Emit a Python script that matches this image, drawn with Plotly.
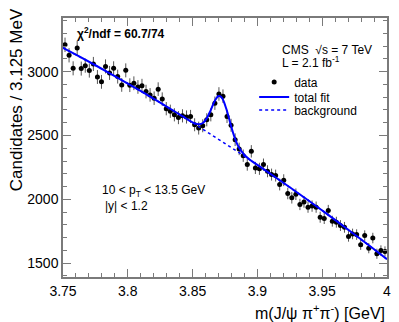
import numpy as np
import plotly.graph_objects as go

# binning of the J/psi pi+ pi- mass spectrum
mass_lo = 3.75
bin_width = 0.003125

# candidates per 3.125 MeV bin
counts = [3210, 3128, 3026, 3185, 3024, 3047, 3008, 3060, 2958, 2920,
          3041, 2990, 3026, 2961, 2896, 3010, 2894, 2909, 2880, 2890,
          2844, 2818, 2792, 2863, 2785, 2710, 2690, 2662, 2640, 2654,
          2645, 2649, 2584, 2558, 2576, 2623, 2662, 2753, 2825, 2808,
          2649, 2580, 2467, 2395, 2342, 2272, 2376, 2246, 2239, 2272,
          2220, 2194, 2186, 2116, 2150, 2046, 2012, 2040, 1960, 1979,
          1939, 1947, 1939, 1860, 1850, 1913, 1829, 1821, 1795, 1781,
          1710, 1729, 1724, 1645, 1716, 1618, 1697, 1574, 1600, 1592]

# total fit curve
fit_mass = [3.75, 3.7625, 3.775, 3.7875, 3.8, 3.8125, 3.825, 3.8375,
            3.845, 3.85, 3.855, 3.858, 3.861, 3.864, 3.867, 3.87, 3.8715,
            3.873, 3.876, 3.879, 3.882, 3.885, 3.89, 3.895, 3.9, 3.9125,
            3.925, 3.9375, 3.95, 3.9625, 3.975, 3.9875, 4.0]
fit_vals = [3187, 3119, 3050, 2979, 2907, 2833, 2757, 2680,
            2633, 2603, 2588, 2598, 2636, 2699, 2769, 2809, 2807,
            2789, 2709, 2600, 2497, 2420, 2347, 2304, 2270, 2183,
            2095, 2005, 1913, 1820, 1725, 1629, 1531]

# background component
bg_mass = [3.75, 3.7625, 3.775, 3.7875, 3.8, 3.8125, 3.825, 3.8375, 3.85,
           3.8625, 3.875, 3.8875, 3.9, 3.9125, 3.925, 3.9375, 3.95,
           3.9625, 3.975, 3.9875, 4.0]
bg_vals = [3187, 3119, 3050, 2979, 2907, 2833, 2757, 2680, 2601,
           2521, 2439, 2355, 2270, 2183, 2095, 2005, 1913,
           1820, 1725, 1629, 1531]

x_ticks = [3.75, 3.8, 3.85, 3.9, 3.95, 4.0]
x_labels = ['3.75', '3.8', '3.85', '3.9', '3.95', '4']
y_ticks = [1500, 2000, 2500, 3000]

centers = mass_lo + (np.arange(len(counts)) + 0.5) * bin_width
errs = np.sqrt(counts)

FRAME = '#7a7a7a'

fig = go.Figure()
fig.add_trace(go.Scatter(
    x=centers, y=counts, mode='markers', name='data', legend='legend',
    showlegend=True,
    marker=dict(color='black', size=5),
    error_y=dict(type='data', array=errs, color='#555555', thickness=1, width=0),
    error_x=dict(type='constant', value=bin_width / 2, color='black',
                 thickness=1, width=0)))
fig.add_trace(go.Scatter(
    x=fit_mass, y=fit_vals, mode='lines', name='total fit', legend='legend2',
    showlegend=True,
    line=dict(color='#0000ff', width=2, shape='spline')))
fig.add_trace(go.Scatter(
    x=bg_mass, y=bg_vals, mode='lines', name='background', legend='legend3',
    showlegend=True,
    line=dict(color='#0000ff', width=1.5, dash='dot')))

fig.update_xaxes(range=[3.75, 4.0], tickvals=x_ticks, ticktext=x_labels,
                 ticks='inside', ticklen=8, tickcolor=FRAME, tickwidth=1,
                 showline=True, linecolor=FRAME, linewidth=1.5, mirror='ticks',
                 minor=dict(dtick=0.01, tick0=3.75, ticks='inside',
                            ticklen=4, tickcolor=FRAME),
                 showgrid=False, zeroline=False, tickfont=dict(size=14))
fig.update_yaxes(range=[1392, 3420], tickvals=y_ticks,
                 ticks='inside', ticklen=8, tickcolor=FRAME, tickwidth=1,
                 showline=True, linecolor=FRAME, linewidth=1.5, mirror='ticks',
                 minor=dict(dtick=100, tick0=1500, ticks='inside',
                            ticklen=4, tickcolor=FRAME),
                 showgrid=False, zeroline=False, tickfont=dict(size=14))

notes = [
    dict(text='Candidates / 3.125 MeV', x=-0.1433, y=0.685, textangle=-90,
         xanchor='center', yanchor='middle', font=dict(size=17)),
    dict(text='m(J/ψ π<sup>+</sup>π<sup>-</sup>) [GeV]', x=1.0, y=-0.135,
         xanchor='right', yanchor='middle', font=dict(size=16)),
    dict(text='<b>χ<sup>2</sup>/ndf = 60.7/74</b>', x=0.036, y=0.942,
         xanchor='left', yanchor='middle', font=dict(size=12)),
    dict(text='CMS  √s = 7 TeV', x=0.671, y=0.876,
         xanchor='left', yanchor='middle', font=dict(size=12)),
    dict(text='L = 2.1 fb<sup>-1</sup>', x=0.671, y=0.830,
         xanchor='left', yanchor='middle', font=dict(size=12)),
    dict(text='10 < p<sub>T</sub> < 13.5 GeV', x=0.113, y=0.332,
         xanchor='left', yanchor='middle', font=dict(size=12)),
    dict(text='|y| < 1.2', x=0.122, y=0.274,
         xanchor='left', yanchor='middle', font=dict(size=12)),
]
for n in notes:
    fig.add_annotation(xref='paper', yref='paper', showarrow=False, **n)

# one legend per row so the rows can sit as tightly as in the original
legend_style = dict(x=0.59, xanchor='left', yanchor='middle', visible=True,
                    bgcolor='rgba(0,0,0,0)', font=dict(size=12), itemwidth=30)

# the page body adds an 8 px margin, so the figure is 8 px smaller
fig.update_layout(
    width=391, height=314,
    margin=dict(l=55, r=8, t=10, b=45),
    showlegend=True,
    plot_bgcolor='white', paper_bgcolor='white',
    font=dict(family='Liberation Sans, Arial, sans-serif', color='black', size=14),
    legend=dict(y=0.753, **legend_style),
    legend2=dict(y=0.695, **legend_style),
    legend3=dict(y=0.645, **legend_style),
)
fig.write_html("out.html")
